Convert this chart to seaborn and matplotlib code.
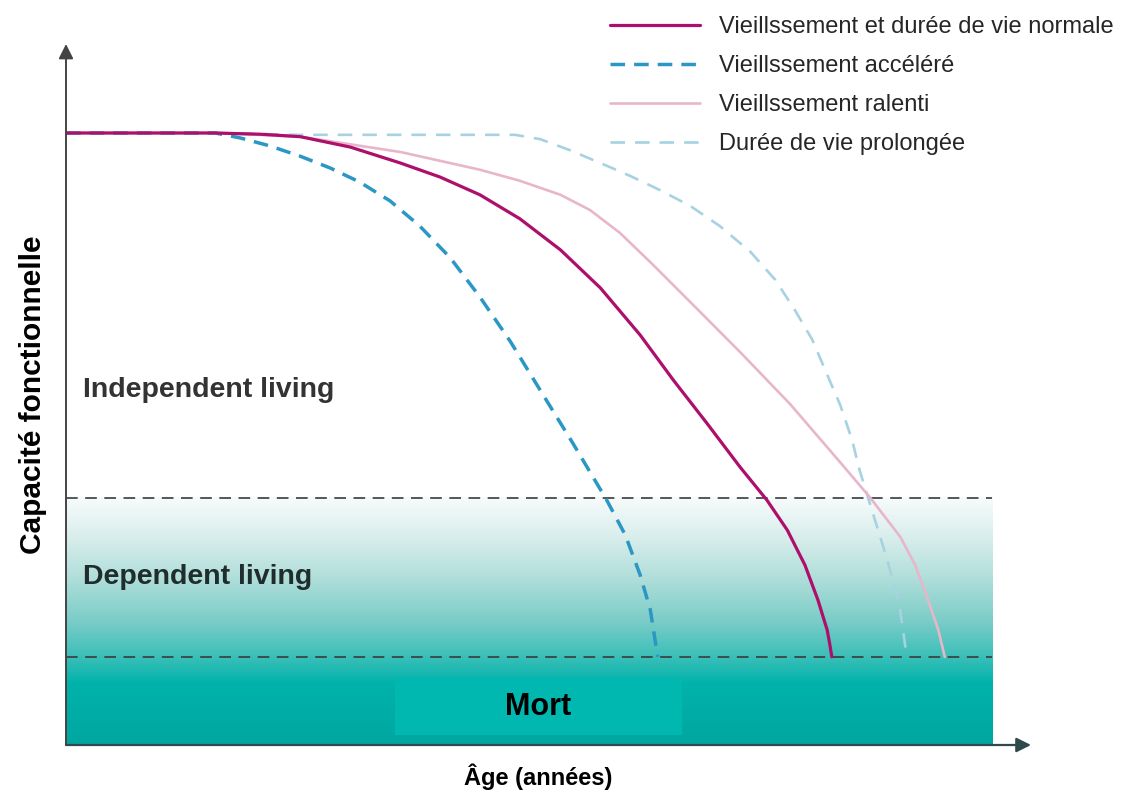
import numpy as np
import pandas as pd
import matplotlib
matplotlib.use("Agg")
import matplotlib.pyplot as plt
from matplotlib.colors import LinearSegmentedColormap
from matplotlib.patches import Rectangle
from matplotlib.lines import Line2D
import seaborn as sns

sns.set_theme(style="white")
plt.rcParams['font.family'] = ['Liberation Sans', 'DejaVu Sans']

# ---------------- data (age units 0-100, capacity units 0-100) ----------------
labels = ["Vieillssement et durée de vie normale",
          "Vieillssement accéléré",
          "Vieillssement ralenti",
          "Durée de vie prolongée"]

normal_x = [0, 16.1, 21.0, 25.3, 30.7, 36.1, 40.4, 44.7, 49.0, 53.4, 57.7, 62.0, 65.6, 69.2, 72.8, 75.7, 77.9, 79.8, 81.2, 82.2, 82.5, 82.7]
normal_y = [100, 100, 99.8, 99.4, 97.7, 95.1, 92.8, 89.9, 86.0, 80.9, 74.7, 67.0, 59.6, 52.6, 45.4, 40.0, 35.1, 29.4, 23.7, 18.8, 16.3, 14.4]

accel_x = [0, 16.1, 18.8, 22.0, 25.3, 28.5, 31.7, 35.0, 38.2, 41.5, 44.7, 48.0, 51.2, 54.7, 58.4, 60.4, 62.0, 63.1, 63.9]
accel_y = [100, 100, 99.2, 97.9, 96.2, 94.3, 92.0, 88.9, 84.8, 79.6, 73.2, 65.9, 58.0, 49.4, 40.0, 34.3, 27.8, 22.1, 14.4]

slow_x = [0, 16.1, 25.3, 36.1, 44.7, 49.0, 53.4, 56.6, 59.8, 63.1, 67.4, 72.8, 78.2, 83.6, 86.8, 90.1, 91.7, 93.1, 94.2, 94.9]
slow_y = [100, 100, 99.4, 96.9, 94.0, 92.2, 89.9, 87.4, 83.7, 78.9, 72.4, 64.2, 55.7, 46.2, 40.5, 34.0, 29.4, 23.7, 18.8, 14.4]

long_x = [16.1, 25.3, 48.5, 51.2, 54.4, 57.7, 60.9, 64.1, 67.4, 70.6, 73.9, 76.6, 78.7, 80.6, 82.2, 83.6, 84.9, 85.7, 86.6, 87.7, 88.7, 90.0, 90.8]
long_y = [100, 99.7, 99.7, 99.0, 97.2, 95.1, 93.0, 90.7, 88.1, 84.8, 80.6, 76.0, 71.1, 66.2, 60.5, 55.6, 49.8, 44.9, 40.5, 35.1, 30.2, 22.9, 14.4]

dependent_threshold = 40.4
death_threshold = 14.4

region_labels = ["Independent living", "Dependent living", "Mort"]
x_label = "Âge (années)"
y_label = "Capacité fonctionnelle"

# ---------------- figure ----------------
W, H = 1124, 798
fig = plt.figure(figsize=(W / 100, H / 100), dpi=100)
px_x = 9.26   # px per x unit
px_y = 6.12   # px per y unit
x0, y0 = 66, 745
xmax = (1035 - x0) / px_x
ymax = (y0 - 40) / px_y
ax = fig.add_axes([x0 / W, (H - y0) / H, (1035 - x0) / W, (y0 - 40) / H])
ax.set_xlim(0, xmax)
ax.set_ylim(0, ymax)
ax.axis("off")

# gradient background
stops = [(0.0, "#00a7a1"), (10 / 40.4, "#00b3ab"), (14.4 / 40.4, "#3cbfb8"),
         (20 / 40.4, "#79ccc7"), (27.5 / 40.4, "#b2dfdb"), (34 / 40.4, "#d9eeec"),
         (1.0, "#f7fbfb")]
cmap = LinearSegmentedColormap.from_list("tealgrad", stops)
grad = np.linspace(0, 1, 400).reshape(-1, 1)
ax.imshow(grad, extent=[0, 100, 0, dependent_threshold], origin="lower",
          aspect="auto", cmap=cmap, zorder=0, interpolation="bicubic")

# death box
ax.add_patch(Rectangle((35.5, 1.6), 31.0, 9.3, facecolor="#00b8b0", edgecolor="none", zorder=1))

# threshold dashed lines
for yv in (dependent_threshold, death_threshold):
    ax.plot([0, 100], [yv, yv], color="#3a3a3a", lw=1.2, dashes=(7, 4.5), zorder=2)

# curves
df_long = pd.DataFrame({"x": long_x, "y": long_y})
df_slow = pd.DataFrame({"x": slow_x, "y": slow_y})
df_acc = pd.DataFrame({"x": accel_x, "y": accel_y})
df_norm = pd.DataFrame({"x": normal_x, "y": normal_y})

sns.lineplot(data=df_long, x="x", y="y", ax=ax, sort=False, estimator=None,
             color="#a6d2e2", lw=1.9, zorder=3)
ax.lines[-1].set_dashes((5.5, 3.8))
sns.lineplot(data=df_slow, x="x", y="y", ax=ax, sort=False, estimator=None,
             color="#e8b6cb", lw=1.9, zorder=4)
sns.lineplot(data=df_acc, x="x", y="y", ax=ax, sort=False, estimator=None,
             color="#2b97c4", lw=2.5, zorder=5)
ax.lines[-1].set_dashes((4.2, 2.6))
sns.lineplot(data=df_norm, x="x", y="y", ax=ax, sort=False, estimator=None,
             color="#ad0f6b", lw=2.3, zorder=6)
for ln in ax.lines:
    ln.set_solid_joinstyle("round")
    ln.set_dash_joinstyle("round")

# axes arrows
ax.annotate("", xy=(0, (y0 - 44) / px_y), xytext=(0, 0),
            arrowprops=dict(arrowstyle="-|>", color="#444444", lw=1.4,
                            mutation_scale=22, shrinkA=0, shrinkB=0), zorder=7)
ax.annotate("", xy=((1031 - x0) / px_x, 0), xytext=(0, 0),
            arrowprops=dict(arrowstyle="-|>", color="#2e4a4a", lw=1.6,
                            mutation_scale=22, shrinkA=0, shrinkB=0), zorder=7)

# region texts
ax.text((83 - x0) / px_x, (y0 - 390) / px_y, region_labels[0], fontsize=20.5,
        fontweight="bold", color="#333333", ha="left", va="center", zorder=8)
ax.text((83 - x0) / px_x, (y0 - 577) / px_y, region_labels[1], fontsize=20.5,
        fontweight="bold", color="#1f2d2d", ha="left", va="center", zorder=8)
ax.text((538 - x0) / px_x, (y0 - 707) / px_y, region_labels[2], fontsize=22, fontweight="bold",
        color="black", ha="center", va="center", zorder=8)

# axis labels
fig.text(33 / W, 1 - 395 / H, y_label, rotation=90, fontsize=21.5, fontweight="bold",
         ha="center", va="center", color="black")
fig.text(538 / W, 1 - 777 / H, x_label, fontsize=17, fontweight="bold",
         ha="center", va="center", color="black")

# legend
handles = [Line2D([0], [0], color="#ad0f6b", lw=2.3),
           Line2D([0], [0], color="#2b97c4", lw=2.5, dashes=(4.2, 2.6)),
           Line2D([0], [0], color="#e8b6cb", lw=1.9),
           Line2D([0], [0], color="#a6d2e2", lw=1.9, dashes=(5.5, 3.8))]
leg = fig.legend(handles, labels, loc="upper left", bbox_to_anchor=(610 / W, 1 - 16 / H),
                 frameon=False, fontsize=17, handlelength=3.8, handletextpad=0.8,
                 labelspacing=0.72, borderaxespad=0, borderpad=0)

fig.savefig("out.png", dpi=100)
